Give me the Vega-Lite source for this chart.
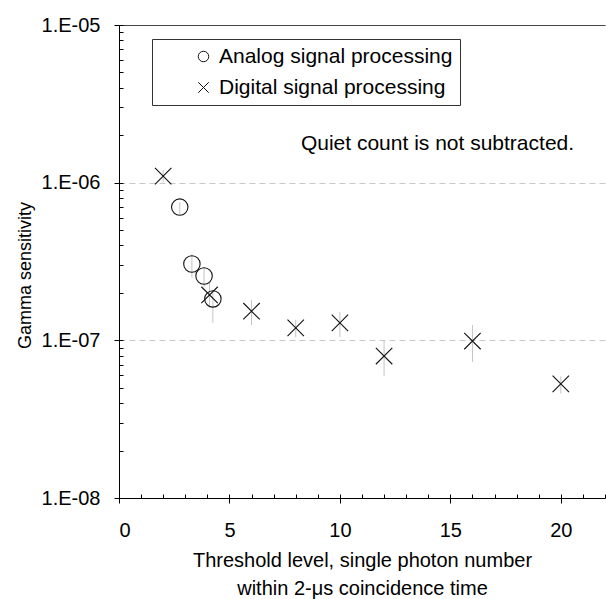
{
  "$schema": "https://vega.github.io/schema/vega-lite/v6.json",
  "width": 486,
  "height": 473,
  "autosize": {"type": "none"},
  "padding": {"left": 119, "top": 25, "right": 1, "bottom": 101},
  "background": "white",
  "config": {
    "view": {"stroke": null},
    "font": "Liberation Sans",
    "axis": {
      "labelFont": "Liberation Sans",
      "titleFont": "Liberation Sans",
      "labelFontSize": 20,
      "titleFontSize": 20,
      "titleFontWeight": "normal",
      "labelColor": "#000",
      "titleColor": "#000",
      "domainColor": "#000",
      "tickColor": "#000",
      "domainWidth": 1,
      "tickWidth": 1
    },
    "legend": {
      "labelFont": "Liberation Sans",
      "labelFontSize": 21,
      "labelColor": "#000"
    }
  },
  "data": {
    "values": [
      {"series": "Analog signal processing", "x": 2.75, "y": 7.0e-7, "lo": 6.3e-7, "hi": 7.5e-7},
      {"series": "Analog signal processing", "x": 3.3, "y": 3.05e-7, "lo": 2.5e-7, "hi": 3.5e-7},
      {"series": "Analog signal processing", "x": 3.85, "y": 2.56e-7, "lo": 2.18e-7, "hi": 2.87e-7},
      {"series": "Analog signal processing", "x": 4.25, "y": 1.83e-7, "lo": 1.29e-7, "hi": 2.0e-7},
      {"series": "Digital signal processing", "x": 2, "y": 1.1e-6, "lo": 1.0e-6, "hi": 1.2e-6},
      {"series": "Digital signal processing", "x": 4.1, "y": 1.94e-7, "lo": 1.63e-7, "hi": 2.31e-7},
      {"series": "Digital signal processing", "x": 6, "y": 1.53e-7, "lo": 1.25e-7, "hi": 1.8e-7},
      {"series": "Digital signal processing", "x": 8, "y": 1.2e-7, "lo": 1.05e-7, "hi": 1.35e-7},
      {"series": "Digital signal processing", "x": 10, "y": 1.29e-7, "lo": 1.05e-7, "hi": 1.51e-7},
      {"series": "Digital signal processing", "x": 12, "y": 7.95e-8, "lo": 5.94e-8, "hi": 1.0e-7},
      {"series": "Digital signal processing", "x": 16, "y": 9.9e-8, "lo": 7.3e-8, "hi": 1.25e-7},
      {"series": "Digital signal processing", "x": 20, "y": 5.3e-8, "lo": 4.6e-8, "hi": 5.9e-8}
    ]
  },
  "layer": [
    {
      "mark": {"type": "rule", "color": "#c4c4c4", "strokeWidth": 1},
      "encoding": {
        "x": {
          "field": "x", "type": "quantitative",
          "scale": {"domain": [0, 22], "nice": false, "zero": false},
          "axis": {
            "orient": "bottom",
            "values": [0, 5, 10, 15, 20],
            "tickSize": 5,
            "labelPadding": 17,
            "grid": false,
            "title": ["Threshold level, single photon number", "within 2-μs coincidence time"],
            "titlePadding": 10,
            "titleLineHeight": 28
          }
        },
        "y": {
          "field": "lo", "type": "quantitative",
          "scale": {"type": "log", "domain": [1e-8, 1e-5], "nice": false},
          "axis": {
            "orient": "left",
            "values": [1e-8, 1e-7, 1e-6, 1e-5],
            "tickSize": 5,
            "labelPadding": 14,
            "labelExpr": "'1.E-0' + format(-round(log(datum.value) / LN10), 'd')",
            "title": "Gamma sensitivity",
            "titleFontSize": 18,
            "titlePadding": 7,
            "titleY": 250,
            "grid": true,
            "gridColor": {"condition": {"test": "datum.value > 5e-6", "value": "#444"}, "value": "#c8c8c8"},
            "gridDash": {"condition": {"test": "datum.value > 5e-6", "value": []}, "value": [6, 4]},
            "gridOpacity": {"condition": {"test": "datum.value < 5e-8", "value": 0}, "value": 1},
            "gridWidth": 1
          }
        },
        "y2": {"field": "hi"}
      }
    },
    {
      "mark": {"type": "point", "filled": false, "size": 270, "strokeWidth": 1.1, "color": "#111", "opacity": 1},
      "encoding": {
        "x": {
          "field": "x", "type": "quantitative",
          "axis": {
            "orient": "bottom",
            "values": [0,1,2,3,4,5,6,7,8,9,10,11,12,13,14,15,16,17,18,19,20,21,22],
            "tickSize": -4,
            "labels": false,
            "domain": false,
            "grid": false,
            "title": null
          }
        },
        "y": {
          "field": "y", "type": "quantitative",
          "axis": {
            "orient": "left",
            "values": [1e-8,2e-8,3e-8,4e-8,5e-8,6e-8,7e-8,8e-8,9e-8,1e-7,2e-7,3e-7,4e-7,5e-7,6e-7,7e-7,8e-7,9e-7,1e-6,2e-6,3e-6,4e-6,5e-6,6e-6,7e-6,8e-6,9e-6,1e-5],
            "tickSize": -4,
            "labels": false,
            "domain": false,
            "grid": false,
            "title": null
          }
        },
        "shape": {
          "field": "series", "type": "nominal",
          "scale": {
            "domain": ["Analog signal processing", "Digital signal processing"],
            "range": ["circle", "M-1,-1L1,1M-1,1L1,-1"]
          },
          "legend": {
            "title": null,
            "orient": "none",
            "legendX": 33,
            "legendY": 14,
            "padding": 7,
            "strokeColor": "#333",
            "fillColor": "#fff",
            "symbolSize": 110,
            "symbolStrokeWidth": 1,
            "symbolStrokeColor": "#111",
            "symbolFillColor": "transparent",
            "symbolOffset": 34,
            "labelOffset": 5,
            "labelLimit": 400,
            "rowPadding": 9
          }
        }
      }
    },
    {
      "data": {"values": [{}]},
      "mark": {"type": "text", "fontSize": 21, "font": "Liberation Sans", "color": "#000", "align": "right", "baseline": "middle"},
      "encoding": {
        "x": {"datum": 20.6, "type": "quantitative", "axis": null},
        "y": {"datum": 1.76e-6, "type": "quantitative", "axis": null},
        "text": {"value": "Quiet count is not subtracted."}
      }
    }
  ],
  "resolve": {"axis": {"x": "independent", "y": "independent"}}
}
